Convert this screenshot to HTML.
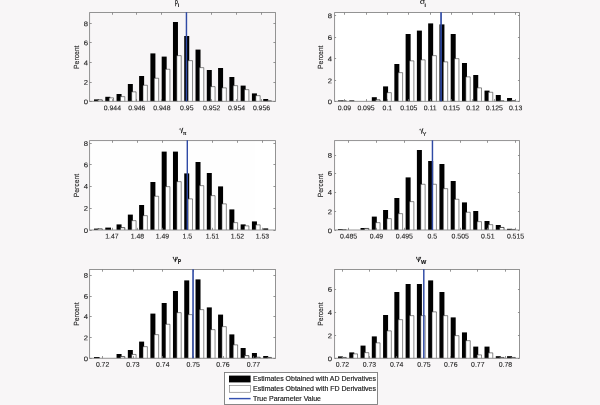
<!DOCTYPE html>
<html><head><meta charset="utf-8"><title>Histograms</title>
<style>html,body{margin:0;padding:0;background:#f8f6f7;}body{width:600px;height:405px;overflow:hidden;font-family:"Liberation Sans",sans-serif;}</style>
</head><body>
<svg width="600" height="405" viewBox="0 0 600 405" style="display:block;font-family:'Liberation Sans',sans-serif;will-change:transform;opacity:0.999">
<rect x="0" y="0" width="600" height="405" fill="#f8f6f7"/>
<g>
<rect x="94.00" y="99.40" width="5" height="1.90" fill="#000"/>
<path d="M97.85 101.3V99.85h4.4V101.3" fill="#fff" stroke="#2a2a2a" stroke-width="0.8"/>
<rect x="105.28" y="96.80" width="5" height="4.50" fill="#000"/>
<path d="M109.13 101.3V97.85h4.4V101.3" fill="#fff" stroke="#2a2a2a" stroke-width="0.55"/>
<rect x="116.56" y="94.00" width="5" height="7.30" fill="#000"/>
<path d="M120.41 101.3V96.65h4.4V101.3" fill="#fff" stroke="#2a2a2a" stroke-width="0.55"/>
<rect x="127.84" y="84.00" width="5" height="17.30" fill="#000"/>
<path d="M131.69 101.3V91.85h4.4V101.3" fill="#fff" stroke="#2a2a2a" stroke-width="0.55"/>
<rect x="139.12" y="76.00" width="5" height="25.30" fill="#000"/>
<path d="M142.97 101.3V85.25h4.4V101.3" fill="#fff" stroke="#2a2a2a" stroke-width="0.55"/>
<rect x="150.40" y="53.40" width="5" height="47.90" fill="#000"/>
<path d="M154.25 101.3V78.25h4.4V101.3" fill="#fff" stroke="#2a2a2a" stroke-width="0.55"/>
<rect x="161.68" y="56.60" width="5" height="44.70" fill="#000"/>
<path d="M165.53 101.3V69.25h4.4V101.3" fill="#fff" stroke="#2a2a2a" stroke-width="0.55"/>
<rect x="172.96" y="22.00" width="5" height="79.30" fill="#000"/>
<path d="M176.81 101.3V55.65h4.4V101.3" fill="#fff" stroke="#2a2a2a" stroke-width="0.55"/>
<rect x="184.24" y="36.00" width="5" height="65.30" fill="#000"/>
<path d="M188.09 101.3V60.65h4.4V101.3" fill="#fff" stroke="#2a2a2a" stroke-width="0.55"/>
<rect x="195.52" y="49.60" width="5" height="51.70" fill="#000"/>
<path d="M199.37 101.3V67.65h4.4V101.3" fill="#fff" stroke="#2a2a2a" stroke-width="0.55"/>
<rect x="206.80" y="70.00" width="5" height="31.30" fill="#000"/>
<path d="M210.65 101.3V86.65h4.4V101.3" fill="#fff" stroke="#2a2a2a" stroke-width="0.55"/>
<rect x="218.08" y="68.00" width="5" height="33.30" fill="#000"/>
<path d="M221.93 101.3V87.85h4.4V101.3" fill="#fff" stroke="#2a2a2a" stroke-width="0.55"/>
<rect x="229.36" y="77.00" width="5" height="24.30" fill="#000"/>
<path d="M233.21 101.3V85.65h4.4V101.3" fill="#fff" stroke="#2a2a2a" stroke-width="0.55"/>
<rect x="240.64" y="85.60" width="5" height="15.70" fill="#000"/>
<path d="M244.49 101.3V89.65h4.4V101.3" fill="#fff" stroke="#2a2a2a" stroke-width="0.55"/>
<rect x="251.92" y="93.40" width="5" height="7.90" fill="#000"/>
<path d="M255.77 101.3V95.65h4.4V101.3" fill="#fff" stroke="#2a2a2a" stroke-width="0.55"/>
<rect x="263.20" y="99.00" width="5" height="2.30" fill="#000"/>
<path d="M267.05 101.3V100.85h4.4V101.3" fill="#fff" stroke="#2a2a2a" stroke-width="0.8"/>
<rect x="89.6" y="12.55" width="185.90" height="88.75" fill="none" stroke="#888888" stroke-width="0.9"/>
<path d="M112.5 101.3v-2.2M112.5 12.55v2.2M136.5 101.3v-2.2M136.5 12.55v2.2M161.5 101.3v-2.2M161.5 12.55v2.2M186.5 101.3v-2.2M186.5 12.55v2.2M211.5 101.3v-2.2M211.5 12.55v2.2M236.5 101.3v-2.2M236.5 12.55v2.2M261.5 101.3v-2.2M261.5 12.55v2.2M89.6 101.5h2.1M275.5 101.5h-2.1M89.6 82.5h2.1M275.5 82.5h-2.1M89.6 62.5h2.1M275.5 62.5h-2.1M89.6 42.5h2.1M275.5 42.5h-2.1M89.6 23.5h2.1M275.5 23.5h-2.1" stroke="#7a7a7a" stroke-width="0.8" fill="none"/>
<line x1="186.45" y1="12.25" x2="186.45" y2="101.3" stroke="#2f4aa5" stroke-width="1.45"/>
<g font-size="6.9" fill="#1c1c1c" stroke="#1c1c1c" stroke-width="0.1">
<text x="112.4" y="110.15" transform="rotate(0.03 112.4 110.15)" text-anchor="middle">0.944</text>
<text x="136.8" y="110.15" transform="rotate(0.03 136.8 110.15)" text-anchor="middle">0.946</text>
<text x="161.9" y="110.15" transform="rotate(0.03 161.9 110.15)" text-anchor="middle">0.948</text>
<text x="186.8" y="110.15" transform="rotate(0.03 186.8 110.15)" text-anchor="middle">0.95</text>
<text x="211.7" y="110.15" transform="rotate(0.03 211.7 110.15)" text-anchor="middle">0.952</text>
<text x="236.5" y="110.15" transform="rotate(0.03 236.5 110.15)" text-anchor="middle">0.954</text>
<text x="261.5" y="110.15" transform="rotate(0.03 261.5 110.15)" text-anchor="middle">0.956</text>
<text x="88.10" y="104.17" transform="rotate(0.03 88.10 104.17)" text-anchor="end" textLength="4.3" lengthAdjust="spacingAndGlyphs">0</text>
<text x="88.10" y="84.77" transform="rotate(0.03 88.10 84.77)" text-anchor="end" textLength="4.3" lengthAdjust="spacingAndGlyphs">2</text>
<text x="88.10" y="65.17" transform="rotate(0.03 88.10 65.17)" text-anchor="end" textLength="4.3" lengthAdjust="spacingAndGlyphs">4</text>
<text x="88.10" y="45.17" transform="rotate(0.03 88.10 45.17)" text-anchor="end" textLength="4.3" lengthAdjust="spacingAndGlyphs">6</text>
<text x="88.10" y="26.17" transform="rotate(0.03 88.10 26.17)" text-anchor="end" textLength="4.3" lengthAdjust="spacingAndGlyphs">8</text>
<text transform="translate(79.20 57.22) rotate(-89.97)" font-size="7.5" text-anchor="middle" textLength="23.4" lengthAdjust="spacingAndGlyphs">Percent</text>
</g>
<text transform="matrix(0.5591 0 0 0.7867 174.737 3.948)" font-size="10" font-weight="normal" fill="#222" stroke="#222" stroke-width="0.35">ρ</text>
<text transform="matrix(0.8889 0 0 0.6207 177.522 7.300)" font-size="10" font-weight="normal" fill="#222" stroke="#222" stroke-width="0.12">i</text>
</g>
<g>
<rect x="334.6" y="12.55" width="184.85" height="88.75" fill="#fff"/>
<rect x="338.00" y="100.40" width="5" height="0.90" fill="#000"/>
<path d="M341.85 101.3V100.85h4.4V101.3" fill="#fff" stroke="#2a2a2a" stroke-width="0.8"/>
<rect x="349.27" y="100.40" width="5" height="0.90" fill="#000"/>
<rect x="371.81" y="97.20" width="5" height="4.10" fill="#000"/>
<path d="M375.66 101.3V99.85h4.4V101.3" fill="#fff" stroke="#2a2a2a" stroke-width="0.8"/>
<rect x="383.08" y="86.40" width="5" height="14.90" fill="#000"/>
<path d="M386.93 101.3V92.65h4.4V101.3" fill="#fff" stroke="#2a2a2a" stroke-width="0.55"/>
<rect x="394.35" y="64.00" width="5" height="37.30" fill="#000"/>
<path d="M398.20 101.3V72.65h4.4V101.3" fill="#fff" stroke="#2a2a2a" stroke-width="0.55"/>
<rect x="405.62" y="34.00" width="5" height="67.30" fill="#000"/>
<path d="M409.47 101.3V60.85h4.4V101.3" fill="#fff" stroke="#2a2a2a" stroke-width="0.55"/>
<rect x="416.89" y="30.60" width="5" height="70.70" fill="#000"/>
<path d="M420.74 101.3V59.85h4.4V101.3" fill="#fff" stroke="#2a2a2a" stroke-width="0.55"/>
<rect x="428.16" y="23.40" width="5" height="77.90" fill="#000"/>
<path d="M432.01 101.3V55.65h4.4V101.3" fill="#fff" stroke="#2a2a2a" stroke-width="0.55"/>
<rect x="439.43" y="24.40" width="5" height="76.90" fill="#000"/>
<path d="M443.28 101.3V61.85h4.4V101.3" fill="#fff" stroke="#2a2a2a" stroke-width="0.55"/>
<rect x="450.70" y="34.00" width="5" height="67.30" fill="#000"/>
<path d="M454.55 101.3V58.65h4.4V101.3" fill="#fff" stroke="#2a2a2a" stroke-width="0.55"/>
<rect x="461.97" y="63.00" width="5" height="38.30" fill="#000"/>
<path d="M465.82 101.3V76.85h4.4V101.3" fill="#fff" stroke="#2a2a2a" stroke-width="0.55"/>
<rect x="473.24" y="75.00" width="5" height="26.30" fill="#000"/>
<path d="M477.09 101.3V87.85h4.4V101.3" fill="#fff" stroke="#2a2a2a" stroke-width="0.55"/>
<rect x="484.51" y="90.60" width="5" height="10.70" fill="#000"/>
<path d="M488.36 101.3V92.25h4.4V101.3" fill="#fff" stroke="#2a2a2a" stroke-width="0.55"/>
<rect x="495.78" y="95.00" width="5" height="6.30" fill="#000"/>
<path d="M499.63 101.3V100.85h4.4V101.3" fill="#fff" stroke="#2a2a2a" stroke-width="0.8"/>
<rect x="507.05" y="98.00" width="5" height="3.30" fill="#000"/>
<path d="M510.90 101.3V100.65h4.4V101.3" fill="#fff" stroke="#2a2a2a" stroke-width="0.8"/>
<rect x="334.6" y="12.55" width="184.85" height="88.75" fill="none" stroke="#888888" stroke-width="0.9"/>
<path d="M344.5 101.3v-2.2M344.5 12.55v2.2M366.5 101.3v-2.2M366.5 12.55v2.2M387.5 101.3v-2.2M387.5 12.55v2.2M408.5 101.3v-2.2M408.5 12.55v2.2M430.5 101.3v-2.2M430.5 12.55v2.2M451.5 101.3v-2.2M451.5 12.55v2.2M472.5 101.3v-2.2M472.5 12.55v2.2M494.5 101.3v-2.2M494.5 12.55v2.2M515.5 101.3v-2.2M515.5 12.55v2.2M334.6 101.5h1.5M519.45 101.5h-1.5M334.6 80.5h1.5M519.45 80.5h-1.5M334.6 58.5h1.5M519.45 58.5h-1.5M334.6 37.5h1.5M519.45 37.5h-1.5M334.6 15.5h1.5M519.45 15.5h-1.5" stroke="#7a7a7a" stroke-width="0.8" fill="none"/>
<line x1="441.05" y1="12.25" x2="441.05" y2="101.3" stroke="#2f4aa5" stroke-width="1.7"/>
<g font-size="6.9" fill="#1c1c1c" stroke="#1c1c1c" stroke-width="0.1">
<text x="344.5" y="110.15" transform="rotate(0.03 344.5 110.15)" text-anchor="middle">0.09</text>
<text x="366.0" y="110.15" transform="rotate(0.03 366.0 110.15)" text-anchor="middle">0.095</text>
<text x="387.4" y="110.15" transform="rotate(0.03 387.4 110.15)" text-anchor="middle">0.1</text>
<text x="408.8" y="110.15" transform="rotate(0.03 408.8 110.15)" text-anchor="middle">0.105</text>
<text x="430.2" y="110.15" transform="rotate(0.03 430.2 110.15)" text-anchor="middle">0.11</text>
<text x="451.5" y="110.15" transform="rotate(0.03 451.5 110.15)" text-anchor="middle">0.115</text>
<text x="472.9" y="110.15" transform="rotate(0.03 472.9 110.15)" text-anchor="middle">0.12</text>
<text x="494.3" y="110.15" transform="rotate(0.03 494.3 110.15)" text-anchor="middle">0.125</text>
<text x="515.6" y="110.15" transform="rotate(0.03 515.6 110.15)" text-anchor="middle">0.13</text>
<text x="332.10" y="104.17" transform="rotate(0.03 332.10 104.17)" text-anchor="end" textLength="4.3" lengthAdjust="spacingAndGlyphs">0</text>
<text x="332.10" y="83.17" transform="rotate(0.03 332.10 83.17)" text-anchor="end" textLength="4.3" lengthAdjust="spacingAndGlyphs">2</text>
<text x="332.10" y="61.37" transform="rotate(0.03 332.10 61.37)" text-anchor="end" textLength="4.3" lengthAdjust="spacingAndGlyphs">4</text>
<text x="332.10" y="39.97" transform="rotate(0.03 332.10 39.97)" text-anchor="end" textLength="4.3" lengthAdjust="spacingAndGlyphs">6</text>
<text x="332.10" y="18.37" transform="rotate(0.03 332.10 18.37)" text-anchor="end" textLength="4.3" lengthAdjust="spacingAndGlyphs">8</text>
<text transform="translate(323.30 57.22) rotate(-89.97)" font-size="7.5" text-anchor="middle" textLength="23.4" lengthAdjust="spacingAndGlyphs">Percent</text>
</g>
<text transform="matrix(0.8750 0 0 0.7685 419.750 4.423)" font-size="10" font-weight="normal" fill="#222" stroke="#222" stroke-width="0.12">σ</text>
<text transform="matrix(0.8889 0 0 0.5793 424.172 7.400)" font-size="10" font-weight="normal" fill="#222" stroke="#222" stroke-width="0.12">i</text>
</g>
<g>
<rect x="89.6" y="140.6" width="185.90" height="89.40" fill="#fff"/>
<rect x="94.00" y="228.60" width="5" height="1.40" fill="#000"/>
<path d="M97.85 230.0V228.85h4.4V230.0" fill="#fff" stroke="#2a2a2a" stroke-width="0.8"/>
<rect x="105.28" y="227.60" width="5.7" height="2.40" fill="#000"/>
<rect x="116.56" y="224.40" width="5" height="5.60" fill="#000"/>
<path d="M120.41 230.0V227.65h4.4V230.0" fill="#fff" stroke="#2a2a2a" stroke-width="0.8"/>
<rect x="127.84" y="214.60" width="5" height="15.40" fill="#000"/>
<path d="M131.69 230.0V220.65h4.4V230.0" fill="#fff" stroke="#2a2a2a" stroke-width="0.55"/>
<rect x="139.12" y="205.00" width="5" height="25.00" fill="#000"/>
<path d="M142.97 230.0V215.65h4.4V230.0" fill="#fff" stroke="#2a2a2a" stroke-width="0.55"/>
<rect x="150.40" y="182.00" width="5" height="48.00" fill="#000"/>
<path d="M154.25 230.0V196.25h4.4V230.0" fill="#fff" stroke="#2a2a2a" stroke-width="0.55"/>
<rect x="161.68" y="151.60" width="5" height="78.40" fill="#000"/>
<path d="M165.53 230.0V186.65h4.4V230.0" fill="#fff" stroke="#2a2a2a" stroke-width="0.55"/>
<rect x="172.96" y="151.60" width="5" height="78.40" fill="#000"/>
<path d="M176.81 230.0V181.65h4.4V230.0" fill="#fff" stroke="#2a2a2a" stroke-width="0.55"/>
<rect x="184.24" y="173.40" width="5" height="56.60" fill="#000"/>
<path d="M188.09 230.0V198.85h4.4V230.0" fill="#fff" stroke="#2a2a2a" stroke-width="0.55"/>
<rect x="195.52" y="162.00" width="5" height="68.00" fill="#000"/>
<path d="M199.37 230.0V185.65h4.4V230.0" fill="#fff" stroke="#2a2a2a" stroke-width="0.55"/>
<rect x="206.80" y="173.00" width="5" height="57.00" fill="#000"/>
<path d="M210.65 230.0V195.65h4.4V230.0" fill="#fff" stroke="#2a2a2a" stroke-width="0.55"/>
<rect x="218.08" y="186.40" width="5" height="43.60" fill="#000"/>
<path d="M221.93 230.0V203.85h4.4V230.0" fill="#fff" stroke="#2a2a2a" stroke-width="0.55"/>
<rect x="229.36" y="209.40" width="5" height="20.60" fill="#000"/>
<path d="M233.21 230.0V222.65h4.4V230.0" fill="#fff" stroke="#2a2a2a" stroke-width="0.55"/>
<rect x="240.64" y="224.40" width="5" height="5.60" fill="#000"/>
<path d="M244.49 230.0V225.85h4.4V230.0" fill="#fff" stroke="#2a2a2a" stroke-width="0.55"/>
<rect x="251.92" y="221.40" width="5" height="8.60" fill="#000"/>
<path d="M255.77 230.0V224.85h4.4V230.0" fill="#fff" stroke="#2a2a2a" stroke-width="0.55"/>
<rect x="263.20" y="228.40" width="5" height="1.60" fill="#000"/>
<rect x="89.6" y="140.6" width="185.90" height="89.40" fill="none" stroke="#888888" stroke-width="0.9"/>
<path d="M112.5 230.0v-2.2M112.5 140.6v2.2M137.5 230.0v-2.2M137.5 140.6v2.2M162.5 230.0v-2.2M162.5 140.6v2.2M187.5 230.0v-2.2M187.5 140.6v2.2M212.5 230.0v-2.2M212.5 140.6v2.2M237.5 230.0v-2.2M237.5 140.6v2.2M262.5 230.0v-2.2M262.5 140.6v2.2M89.6 230.5h2.1M275.5 230.5h-2.1M89.6 208.5h2.1M275.5 208.5h-2.1M89.6 186.5h2.1M275.5 186.5h-2.1M89.6 164.5h2.1M275.5 164.5h-2.1M89.6 143.5h2.1M275.5 143.5h-2.1" stroke="#7a7a7a" stroke-width="0.8" fill="none"/>
<line x1="187.3" y1="140.30" x2="187.3" y2="230.0" stroke="#2f4aa5" stroke-width="1.4"/>
<g font-size="6.9" fill="#1c1c1c" stroke="#1c1c1c" stroke-width="0.1">
<text x="112" y="238.40" transform="rotate(0.03 112 238.40)" text-anchor="middle">1.47</text>
<text x="137.4" y="238.40" transform="rotate(0.03 137.4 238.40)" text-anchor="middle">1.48</text>
<text x="162.4" y="238.40" transform="rotate(0.03 162.4 238.40)" text-anchor="middle">1.49</text>
<text x="187.4" y="238.40" transform="rotate(0.03 187.4 238.40)" text-anchor="middle">1.5</text>
<text x="212.4" y="238.40" transform="rotate(0.03 212.4 238.40)" text-anchor="middle">1.51</text>
<text x="237.4" y="238.40" transform="rotate(0.03 237.4 238.40)" text-anchor="middle">1.52</text>
<text x="262.4" y="238.40" transform="rotate(0.03 262.4 238.40)" text-anchor="middle">1.53</text>
<text x="88.10" y="233.07" transform="rotate(0.03 88.10 233.07)" text-anchor="end" textLength="4.3" lengthAdjust="spacingAndGlyphs">0</text>
<text x="88.10" y="210.87" transform="rotate(0.03 88.10 210.87)" text-anchor="end" textLength="4.3" lengthAdjust="spacingAndGlyphs">2</text>
<text x="88.10" y="188.87" transform="rotate(0.03 88.10 188.87)" text-anchor="end" textLength="4.3" lengthAdjust="spacingAndGlyphs">4</text>
<text x="88.10" y="167.27" transform="rotate(0.03 88.10 167.27)" text-anchor="end" textLength="4.3" lengthAdjust="spacingAndGlyphs">6</text>
<text x="88.10" y="146.07" transform="rotate(0.03 88.10 146.07)" text-anchor="end" textLength="4.3" lengthAdjust="spacingAndGlyphs">8</text>
<text transform="translate(79.20 185.60) rotate(-89.97)" font-size="7.5" text-anchor="middle" textLength="23.4" lengthAdjust="spacingAndGlyphs">Percent</text>
</g>
<g transform="translate(0 0)" fill="none" stroke="#222" stroke-linecap="round"><path d="M179.45 129.3Q179.8 128.1 180.45 128.6L181.55 131.3" stroke-width="0.6"/><path d="M182.7 128.2L181.45 132.8" stroke-width="0.95"/></g>
<text transform="matrix(0.4306 0 0 0.5741 182.914 135.043)" font-size="10" font-weight="bold" fill="#222" stroke="#222" stroke-width="0.35">π</text>
</g>
<g>
<rect x="334.6" y="140.6" width="184.85" height="89.40" fill="#fff"/>
<rect x="338.00" y="229.00" width="5" height="1.00" fill="#000"/>
<path d="M341.85 230.0V229.65h4.4V230.0" fill="#fff" stroke="#2a2a2a" stroke-width="0.8"/>
<rect x="360.54" y="228.00" width="5" height="2.00" fill="#000"/>
<path d="M364.39 230.0V228.45h4.4V230.0" fill="#fff" stroke="#2a2a2a" stroke-width="0.8"/>
<rect x="371.81" y="216.60" width="5" height="13.40" fill="#000"/>
<path d="M375.66 230.0V222.65h4.4V230.0" fill="#fff" stroke="#2a2a2a" stroke-width="0.55"/>
<rect x="383.08" y="210.00" width="5" height="20.00" fill="#000"/>
<path d="M386.93 230.0V218.65h4.4V230.0" fill="#fff" stroke="#2a2a2a" stroke-width="0.55"/>
<rect x="394.35" y="198.00" width="5" height="32.00" fill="#000"/>
<path d="M398.20 230.0V213.65h4.4V230.0" fill="#fff" stroke="#2a2a2a" stroke-width="0.55"/>
<rect x="405.62" y="177.40" width="5" height="52.60" fill="#000"/>
<path d="M409.47 230.0V201.65h4.4V230.0" fill="#fff" stroke="#2a2a2a" stroke-width="0.55"/>
<rect x="416.89" y="150.00" width="5" height="80.00" fill="#000"/>
<path d="M420.74 230.0V184.25h4.4V230.0" fill="#fff" stroke="#2a2a2a" stroke-width="0.55"/>
<rect x="428.16" y="161.00" width="5" height="69.00" fill="#000"/>
<path d="M432.01 230.0V184.25h4.4V230.0" fill="#fff" stroke="#2a2a2a" stroke-width="0.55"/>
<rect x="439.43" y="164.00" width="5" height="66.00" fill="#000"/>
<path d="M443.28 230.0V188.65h4.4V230.0" fill="#fff" stroke="#2a2a2a" stroke-width="0.55"/>
<rect x="450.70" y="181.00" width="5" height="49.00" fill="#000"/>
<path d="M454.55 230.0V199.25h4.4V230.0" fill="#fff" stroke="#2a2a2a" stroke-width="0.55"/>
<rect x="461.97" y="202.40" width="5" height="27.60" fill="#000"/>
<path d="M465.82 230.0V212.25h4.4V230.0" fill="#fff" stroke="#2a2a2a" stroke-width="0.55"/>
<rect x="473.24" y="211.00" width="5" height="19.00" fill="#000"/>
<path d="M477.09 230.0V221.65h4.4V230.0" fill="#fff" stroke="#2a2a2a" stroke-width="0.55"/>
<rect x="484.51" y="221.00" width="5" height="9.00" fill="#000"/>
<path d="M488.36 230.0V224.65h4.4V230.0" fill="#fff" stroke="#2a2a2a" stroke-width="0.55"/>
<rect x="495.78" y="225.00" width="5" height="5.00" fill="#000"/>
<path d="M499.63 230.0V227.45h4.4V230.0" fill="#fff" stroke="#2a2a2a" stroke-width="0.8"/>
<rect x="507.05" y="228.80" width="5" height="1.20" fill="#000"/>
<path d="M510.90 230.0V229.45h4.4V230.0" fill="#fff" stroke="#2a2a2a" stroke-width="0.8"/>
<rect x="334.6" y="140.6" width="184.85" height="89.40" fill="none" stroke="#888888" stroke-width="0.9"/>
<path d="M348.5 230.0v-2.2M348.5 140.6v2.2M376.5 230.0v-2.2M376.5 140.6v2.2M404.5 230.0v-2.2M404.5 140.6v2.2M432.5 230.0v-2.2M432.5 140.6v2.2M460.5 230.0v-2.2M460.5 140.6v2.2M487.5 230.0v-2.2M487.5 140.6v2.2M515.5 230.0v-2.2M515.5 140.6v2.2M334.6 230.5h1.5M519.45 230.5h-1.5M334.6 211.5h1.5M519.45 211.5h-1.5M334.6 192.5h1.5M519.45 192.5h-1.5M334.6 173.5h1.5M519.45 173.5h-1.5M334.6 155.5h1.5M519.45 155.5h-1.5" stroke="#7a7a7a" stroke-width="0.8" fill="none"/>
<line x1="432.45" y1="140.30" x2="432.45" y2="230.0" stroke="#2f4aa5" stroke-width="1.45"/>
<g font-size="6.9" fill="#1c1c1c" stroke="#1c1c1c" stroke-width="0.1">
<text x="348.5" y="238.40" transform="rotate(0.03 348.5 238.40)" text-anchor="middle">0.485</text>
<text x="376.4" y="238.40" transform="rotate(0.03 376.4 238.40)" text-anchor="middle">0.49</text>
<text x="404.3" y="238.40" transform="rotate(0.03 404.3 238.40)" text-anchor="middle">0.495</text>
<text x="432.2" y="238.40" transform="rotate(0.03 432.2 238.40)" text-anchor="middle">0.5</text>
<text x="460.2" y="238.40" transform="rotate(0.03 460.2 238.40)" text-anchor="middle">0.505</text>
<text x="487.8" y="238.40" transform="rotate(0.03 487.8 238.40)" text-anchor="middle">0.51</text>
<text x="515.5" y="238.40" transform="rotate(0.03 515.5 238.40)" text-anchor="middle">0.515</text>
<text x="332.10" y="233.37" transform="rotate(0.03 332.10 233.37)" text-anchor="end" textLength="4.3" lengthAdjust="spacingAndGlyphs">0</text>
<text x="332.10" y="214.17" transform="rotate(0.03 332.10 214.17)" text-anchor="end" textLength="4.3" lengthAdjust="spacingAndGlyphs">2</text>
<text x="332.10" y="194.87" transform="rotate(0.03 332.10 194.87)" text-anchor="end" textLength="4.3" lengthAdjust="spacingAndGlyphs">4</text>
<text x="332.10" y="175.87" transform="rotate(0.03 332.10 175.87)" text-anchor="end" textLength="4.3" lengthAdjust="spacingAndGlyphs">6</text>
<text x="332.10" y="157.87" transform="rotate(0.03 332.10 157.87)" text-anchor="end" textLength="4.3" lengthAdjust="spacingAndGlyphs">8</text>
<text transform="translate(323.30 185.60) rotate(-89.97)" font-size="7.5" text-anchor="middle" textLength="23.4" lengthAdjust="spacingAndGlyphs">Percent</text>
</g>
<g transform="translate(240.1 0.5)" fill="none" stroke="#222" stroke-linecap="round"><path d="M179.45 129.3Q179.8 128.1 180.45 128.6L181.55 131.3" stroke-width="0.6"/><path d="M182.7 128.2L181.45 132.8" stroke-width="0.95"/></g>
<text transform="matrix(0.5323 0 0 0.6087 422.717 135.600)" font-size="10" font-weight="normal" fill="#222" stroke="#222" stroke-width="0.35">Y</text>
</g>
<g>
<rect x="89.6" y="269.5" width="185.90" height="88.75" fill="#fff"/>
<rect x="94.00" y="357.00" width="5.6" height="1.25" fill="#000"/>
<rect x="116.56" y="354.00" width="5" height="4.25" fill="#000"/>
<path d="M120.41 358.25V356.65h4.4V358.25" fill="#fff" stroke="#2a2a2a" stroke-width="0.8"/>
<rect x="127.84" y="350.00" width="5" height="8.25" fill="#000"/>
<path d="M131.69 358.25V354.45h4.4V358.25" fill="#fff" stroke="#2a2a2a" stroke-width="0.55"/>
<rect x="139.12" y="341.60" width="5" height="16.65" fill="#000"/>
<path d="M142.97 358.25V346.65h4.4V358.25" fill="#fff" stroke="#2a2a2a" stroke-width="0.55"/>
<rect x="150.40" y="313.60" width="5" height="44.65" fill="#000"/>
<path d="M154.25 358.25V334.65h4.4V358.25" fill="#fff" stroke="#2a2a2a" stroke-width="0.55"/>
<rect x="161.68" y="303.00" width="5" height="55.25" fill="#000"/>
<path d="M165.53 358.25V324.25h4.4V358.25" fill="#fff" stroke="#2a2a2a" stroke-width="0.55"/>
<rect x="172.96" y="291.00" width="5" height="67.25" fill="#000"/>
<path d="M176.81 358.25V312.65h4.4V358.25" fill="#fff" stroke="#2a2a2a" stroke-width="0.55"/>
<rect x="184.24" y="280.40" width="5" height="77.85" fill="#000"/>
<path d="M188.09 358.25V314.65h4.4V358.25" fill="#fff" stroke="#2a2a2a" stroke-width="0.55"/>
<rect x="195.52" y="279.40" width="5" height="78.85" fill="#000"/>
<path d="M199.37 358.25V309.65h4.4V358.25" fill="#fff" stroke="#2a2a2a" stroke-width="0.55"/>
<rect x="206.80" y="307.40" width="5" height="50.85" fill="#000"/>
<path d="M210.65 358.25V329.65h4.4V358.25" fill="#fff" stroke="#2a2a2a" stroke-width="0.55"/>
<rect x="218.08" y="314.60" width="5" height="43.65" fill="#000"/>
<path d="M221.93 358.25V326.65h4.4V358.25" fill="#fff" stroke="#2a2a2a" stroke-width="0.55"/>
<rect x="229.36" y="334.40" width="5" height="23.85" fill="#000"/>
<path d="M233.21 358.25V344.85h4.4V358.25" fill="#fff" stroke="#2a2a2a" stroke-width="0.55"/>
<rect x="240.64" y="348.00" width="5" height="10.25" fill="#000"/>
<path d="M244.49 358.25V355.65h4.4V358.25" fill="#fff" stroke="#2a2a2a" stroke-width="0.8"/>
<rect x="251.92" y="353.00" width="5" height="5.25" fill="#000"/>
<path d="M255.77 358.25V357.25h4.4V358.25" fill="#fff" stroke="#2a2a2a" stroke-width="0.8"/>
<rect x="263.20" y="356.00" width="5" height="2.25" fill="#000"/>
<path d="M267.05 358.25V357.45h4.4V358.25" fill="#fff" stroke="#2a2a2a" stroke-width="0.8"/>
<rect x="89.6" y="269.5" width="185.90" height="88.75" fill="none" stroke="#888888" stroke-width="0.9"/>
<path d="M102.5 358.25v-2.2M102.5 269.5v2.2M133.5 358.25v-2.2M133.5 269.5v2.2M162.5 358.25v-2.2M162.5 269.5v2.2M193.5 358.25v-2.2M193.5 269.5v2.2M223.5 358.25v-2.2M223.5 269.5v2.2M253.5 358.25v-2.2M253.5 269.5v2.2M89.6 358.5h2.1M275.5 358.5h-2.1M89.6 337.5h2.1M275.5 337.5h-2.1M89.6 316.5h2.1M275.5 316.5h-2.1M89.6 296.5h2.1M275.5 296.5h-2.1M89.6 275.5h2.1M275.5 275.5h-2.1" stroke="#7a7a7a" stroke-width="0.8" fill="none"/>
<line x1="193.05" y1="269.20" x2="193.05" y2="358.25" stroke="#2f4aa5" stroke-width="1.6"/>
<g font-size="6.9" fill="#1c1c1c" stroke="#1c1c1c" stroke-width="0.1">
<text x="102.6" y="366.80" transform="rotate(0.03 102.6 366.80)" text-anchor="middle">0.72</text>
<text x="133" y="366.80" transform="rotate(0.03 133 366.80)" text-anchor="middle">0.73</text>
<text x="162.8" y="366.80" transform="rotate(0.03 162.8 366.80)" text-anchor="middle">0.74</text>
<text x="193.2" y="366.80" transform="rotate(0.03 193.2 366.80)" text-anchor="middle">0.75</text>
<text x="223" y="366.80" transform="rotate(0.03 223 366.80)" text-anchor="middle">0.76</text>
<text x="253.4" y="366.80" transform="rotate(0.03 253.4 366.80)" text-anchor="middle">0.77</text>
<text x="88.10" y="361.37" transform="rotate(0.03 88.10 361.37)" text-anchor="end" textLength="4.3" lengthAdjust="spacingAndGlyphs">0</text>
<text x="88.10" y="340.17" transform="rotate(0.03 88.10 340.17)" text-anchor="end" textLength="4.3" lengthAdjust="spacingAndGlyphs">2</text>
<text x="88.10" y="319.07" transform="rotate(0.03 88.10 319.07)" text-anchor="end" textLength="4.3" lengthAdjust="spacingAndGlyphs">4</text>
<text x="88.10" y="298.87" transform="rotate(0.03 88.10 298.87)" text-anchor="end" textLength="4.3" lengthAdjust="spacingAndGlyphs">6</text>
<text x="88.10" y="277.87" transform="rotate(0.03 88.10 277.87)" text-anchor="end" textLength="4.3" lengthAdjust="spacingAndGlyphs">8</text>
<text transform="translate(79.20 314.18) rotate(-89.97)" font-size="7.5" text-anchor="middle" textLength="23.4" lengthAdjust="spacingAndGlyphs">Percent</text>
</g>
<g transform="translate(0 0)" fill="none" stroke="#222" stroke-linecap="butt"><path d="M173.3 257.2C173.5 259.4 174.3 260.2 175.35 260.2C176.5 260.2 177.15 259.2 177.35 257.2" stroke-width="1"/><path d="M176.0 256.9L175.15 262.1" stroke-width="1"/><path d="M172.8 257.3h1.1M176.9 257.3h0.9" stroke-width="0.7"/></g>
<text transform="matrix(0.5088 0 0 0.6277 177.869 264.131)" font-size="10" font-weight="bold" fill="#222" stroke="#222" stroke-width="0.35">P</text>
</g>
<g>
<rect x="334.6" y="269.5" width="184.85" height="88.75" fill="#fff"/>
<rect x="338.00" y="356.40" width="5" height="1.85" fill="#000"/>
<path d="M341.85 358.25V357.45h4.4V358.25" fill="#fff" stroke="#2a2a2a" stroke-width="0.8"/>
<rect x="349.27" y="352.40" width="5" height="5.85" fill="#000"/>
<path d="M353.12 358.25V353.85h4.4V358.25" fill="#fff" stroke="#2a2a2a" stroke-width="0.55"/>
<rect x="360.54" y="345.60" width="5" height="12.65" fill="#000"/>
<path d="M364.39 358.25V352.65h4.4V358.25" fill="#fff" stroke="#2a2a2a" stroke-width="0.55"/>
<rect x="371.81" y="336.40" width="5" height="21.85" fill="#000"/>
<path d="M375.66 358.25V342.85h4.4V358.25" fill="#fff" stroke="#2a2a2a" stroke-width="0.55"/>
<rect x="383.08" y="315.00" width="5" height="43.25" fill="#000"/>
<path d="M386.93 358.25V330.85h4.4V358.25" fill="#fff" stroke="#2a2a2a" stroke-width="0.55"/>
<rect x="394.35" y="292.00" width="5" height="66.25" fill="#000"/>
<path d="M398.20 358.25V319.65h4.4V358.25" fill="#fff" stroke="#2a2a2a" stroke-width="0.55"/>
<rect x="405.62" y="284.00" width="5" height="74.25" fill="#000"/>
<path d="M409.47 358.25V315.65h4.4V358.25" fill="#fff" stroke="#2a2a2a" stroke-width="0.55"/>
<rect x="416.89" y="284.00" width="5" height="74.25" fill="#000"/>
<path d="M420.74 358.25V315.65h4.4V358.25" fill="#fff" stroke="#2a2a2a" stroke-width="0.55"/>
<rect x="428.16" y="280.40" width="5" height="77.85" fill="#000"/>
<path d="M432.01 358.25V311.85h4.4V358.25" fill="#fff" stroke="#2a2a2a" stroke-width="0.55"/>
<rect x="439.43" y="292.00" width="5" height="66.25" fill="#000"/>
<path d="M443.28 358.25V315.65h4.4V358.25" fill="#fff" stroke="#2a2a2a" stroke-width="0.55"/>
<rect x="450.70" y="317.40" width="5" height="40.85" fill="#000"/>
<path d="M454.55 358.25V335.65h4.4V358.25" fill="#fff" stroke="#2a2a2a" stroke-width="0.55"/>
<rect x="461.97" y="332.40" width="5" height="25.85" fill="#000"/>
<path d="M465.82 358.25V340.65h4.4V358.25" fill="#fff" stroke="#2a2a2a" stroke-width="0.55"/>
<rect x="473.24" y="346.60" width="5" height="11.65" fill="#000"/>
<path d="M477.09 358.25V354.85h4.4V358.25" fill="#fff" stroke="#2a2a2a" stroke-width="0.55"/>
<rect x="484.51" y="346.60" width="5" height="11.65" fill="#000"/>
<path d="M488.36 358.25V352.85h4.4V358.25" fill="#fff" stroke="#2a2a2a" stroke-width="0.55"/>
<rect x="495.78" y="356.20" width="5" height="2.05" fill="#000"/>
<path d="M499.63 358.25V357.45h4.4V358.25" fill="#fff" stroke="#2a2a2a" stroke-width="0.8"/>
<rect x="507.05" y="356.20" width="5" height="2.05" fill="#000"/>
<path d="M510.90 358.25V357.45h4.4V358.25" fill="#fff" stroke="#2a2a2a" stroke-width="0.8"/>
<rect x="334.6" y="269.5" width="184.85" height="88.75" fill="none" stroke="#888888" stroke-width="0.9"/>
<path d="M342.5 358.25v-2.2M342.5 269.5v2.2M369.5 358.25v-2.2M369.5 269.5v2.2M396.5 358.25v-2.2M396.5 269.5v2.2M423.5 358.25v-2.2M423.5 269.5v2.2M450.5 358.25v-2.2M450.5 269.5v2.2M477.5 358.25v-2.2M477.5 269.5v2.2M505.5 358.25v-2.2M505.5 269.5v2.2M334.6 358.5h1.5M519.45 358.5h-1.5M334.6 335.5h1.5M519.45 335.5h-1.5M334.6 312.5h1.5M519.45 312.5h-1.5M334.6 289.5h1.5M519.45 289.5h-1.5" stroke="#7a7a7a" stroke-width="0.8" fill="none"/>
<line x1="423.8" y1="269.20" x2="423.8" y2="358.25" stroke="#2f4aa5" stroke-width="1.45"/>
<g font-size="6.9" fill="#1c1c1c" stroke="#1c1c1c" stroke-width="0.1">
<text x="342.4" y="366.80" transform="rotate(0.03 342.4 366.80)" text-anchor="middle">0.72</text>
<text x="369.4" y="366.80" transform="rotate(0.03 369.4 366.80)" text-anchor="middle">0.73</text>
<text x="396.7" y="366.80" transform="rotate(0.03 396.7 366.80)" text-anchor="middle">0.74</text>
<text x="423.9" y="366.80" transform="rotate(0.03 423.9 366.80)" text-anchor="middle">0.75</text>
<text x="450.8" y="366.80" transform="rotate(0.03 450.8 366.80)" text-anchor="middle">0.76</text>
<text x="477.8" y="366.80" transform="rotate(0.03 477.8 366.80)" text-anchor="middle">0.77</text>
<text x="505.5" y="366.80" transform="rotate(0.03 505.5 366.80)" text-anchor="middle">0.78</text>
<text x="332.10" y="361.37" transform="rotate(0.03 332.10 361.37)" text-anchor="end" textLength="4.3" lengthAdjust="spacingAndGlyphs">0</text>
<text x="332.10" y="338.17" transform="rotate(0.03 332.10 338.17)" text-anchor="end" textLength="4.3" lengthAdjust="spacingAndGlyphs">2</text>
<text x="332.10" y="315.07" transform="rotate(0.03 332.10 315.07)" text-anchor="end" textLength="4.3" lengthAdjust="spacingAndGlyphs">4</text>
<text x="332.10" y="291.87" transform="rotate(0.03 332.10 291.87)" text-anchor="end" textLength="4.3" lengthAdjust="spacingAndGlyphs">6</text>
<text transform="translate(323.30 314.18) rotate(-89.97)" font-size="7.5" text-anchor="middle" textLength="23.4" lengthAdjust="spacingAndGlyphs">Percent</text>
</g>
<g transform="translate(243.25 0)" fill="none" stroke="#222" stroke-linecap="butt"><path d="M173.3 257.2C173.5 259.4 174.3 260.2 175.35 260.2C176.5 260.2 177.15 259.2 177.35 257.2" stroke-width="1"/><path d="M176.0 256.9L175.15 262.1" stroke-width="1"/><path d="M172.8 257.3h1.1M176.9 257.3h0.9" stroke-width="0.7"/></g>
<text transform="matrix(0.5532 0 0 0.5942 420.900 264.300)" font-size="10" font-weight="bold" fill="#222" stroke="#222" stroke-width="0.35">W</text>
</g>
<g>
<rect x="224.5" y="372.55" width="153" height="31.9" fill="#fff" stroke="#7c7c7c" stroke-width="0.9"/>
<rect x="229" y="375.6" width="21.6" height="6.8" fill="#000"/>
<rect x="229.3" y="385.3" width="21" height="6.9" fill="#fff" stroke="#555" stroke-width="0.5"/>
<line x1="229" y1="398.6" x2="250.6" y2="398.6" stroke="#3350b0" stroke-width="1.45"/>
<g font-size="6.9" fill="#1c1c1c" stroke="#1c1c1c" stroke-width="0.18">
<text x="253" y="381.1" transform="rotate(0.02 253 381.1)" textLength="123" lengthAdjust="spacingAndGlyphs">Estimates Obtained with AD Derivatives</text>
<text x="253" y="391.1" transform="rotate(0.02 253 391.1)" textLength="123" lengthAdjust="spacingAndGlyphs">Estimates Obtained with FD Derivatives</text>
<text x="253" y="400.7" transform="rotate(0.02 253 400.7)" textLength="68" lengthAdjust="spacingAndGlyphs">True Parameter Value</text>
</g></g>
</svg>
</body></html>
